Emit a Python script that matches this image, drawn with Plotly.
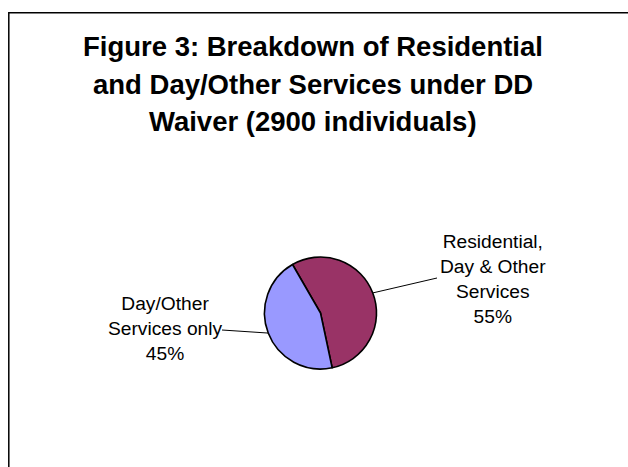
import math
import plotly.graph_objects as go

# ---- data ----
categories = ["Residential, Day & Other Services", "Day/Other Services only"]
category_display = ["Residential,<br>Day & Other<br>Services", "Day/Other<br>Services only"]
values = [55, 45]
colors = ["#993366", "#9999FF"]
title_lines = ["Figure 3: Breakdown of Residential",
               "and Day/Other Services under DD",
               "Waiver (2900 individuals)"]

W, H = 628, 467
FONT = "Arial, 'Liberation Sans', sans-serif"

# pie geometry (pixels)
cx, cy, R = 320.5, 313.0, 56.0
rotation = -30

fig = go.Figure()
fig.add_trace(go.Pie(
    labels=categories,
    values=values,
    sort=False,
    direction="clockwise",
    rotation=rotation,
    textinfo="none",
    hoverinfo="label+percent",
    marker=dict(colors=colors, line=dict(color="black", width=1.6)),
    domain=dict(x=[(cx - R) / W, (cx + R) / W],
                y=[1 - (cy + R) / H, 1 - (cy - R) / H]),
    showlegend=False,
))

def px(x):
    return x / W

def py(y):
    return 1 - y / H

annotations = []
# title lines
title_y = [47, 84.5, 121.5]
for line, ty in zip(title_lines, title_y):
    annotations.append(dict(
        text=f"<b>{line}</b>", x=px(313), y=py(ty), xref="paper", yref="paper",
        xanchor="center", yanchor="middle", showarrow=False,
        font=dict(family=FONT, size=27.5, color="black")))

# data labels with leader lines
total = sum(values)
label_pos = [(493, 279), (165, 328)]   # label block centres (px)
line_end = [(437, 278), (222, 330)]    # leader line end near label (px)
shapes = []
start = rotation
for i, v in enumerate(values):
    span = v / total * 360
    mid = math.radians(start + span / 2)
    start += span
    ex = cx + R * math.sin(mid)
    ey = cy - R * math.cos(mid)
    lx, ly = line_end[i]
    shapes.append(dict(type="line", xref="paper", yref="paper",
                       x0=px(ex), y0=py(ey), x1=px(lx), y1=py(ly),
                       line=dict(color="black", width=1)))
    pct = round(v / total * 100)
    tx, ty = label_pos[i]
    annotations.append(dict(
        text=f"{category_display[i]}<br>{pct}%", x=px(tx), y=py(ty),
        xref="paper", yref="paper", xanchor="center", yanchor="middle",
        align="center", showarrow=False,
        font=dict(family=FONT, size=19.2, color="black")))

# chart-area frame (extends past right/bottom edge)
shapes.append(dict(type="rect", xref="paper", yref="paper",
                   x0=px(8.8), y0=-0.05, x1=1.05, y1=py(12.8),
                   line=dict(color="black", width=1.5), fillcolor="rgba(0,0,0,0)"))

fig.update_layout(
    width=W, height=H,
    margin=dict(l=0, r=0, t=0, b=0),
    paper_bgcolor="white",
    plot_bgcolor="white",
    annotations=annotations,
    shapes=shapes,
)

fig.write_html("out.html", config={"displayModeBar": False},
               post_script="document.body.style.margin='0';")
